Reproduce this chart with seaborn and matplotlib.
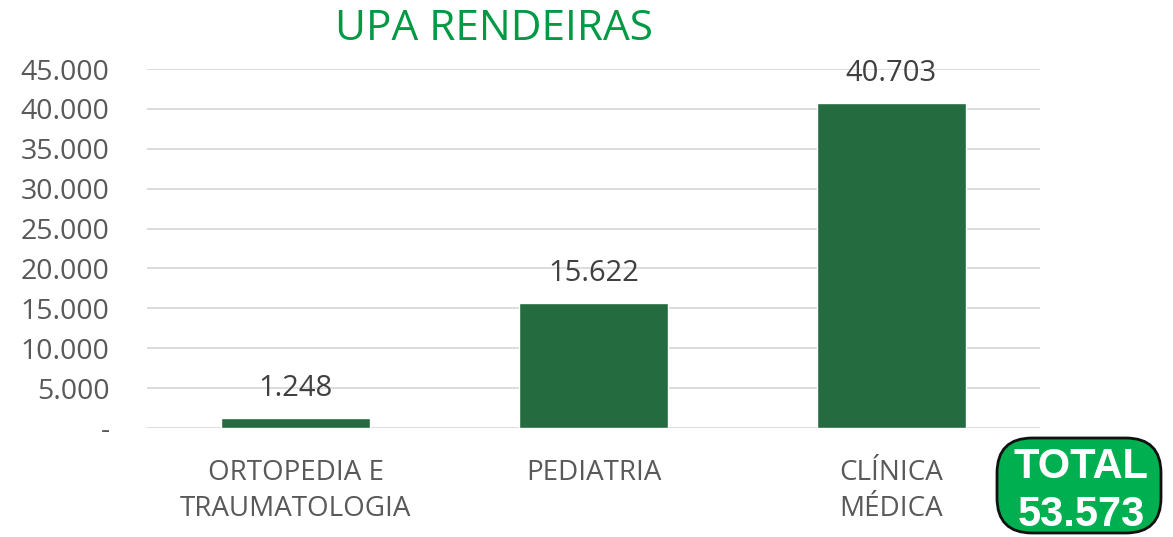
import matplotlib
matplotlib.use("Agg")
import matplotlib.pyplot as plt
import seaborn as sns
import pandas as pd
from matplotlib.patches import FancyBboxPatch

categories = ["ORTOPEDIA E\nTRAUMATOLOGIA", "PEDIATRIA", "CLÍNICA\nMÉDICA"]
values = [1248, 15622, 40703]
value_labels = ["1.248", "15.622", "40.703"]
yticks = [0, 5000, 10000, 15000, 20000, 25000, 30000, 35000, 40000, 45000]
ytick_labels = ["-", "5.000", "10.000", "15.000", "20.000", "25.000",
                "30.000", "35.000", "40.000", "45.000"]
title = "UPA RENDEIRAS"
total_label = "TOTAL"
total_value = "53.573"

sns.set_theme(style="white")
plt.rcParams["font.family"] = ["Open Sans", "DejaVu Sans"]

df = pd.DataFrame({"cat": categories, "val": values})

fig = plt.figure(figsize=(11.73, 5.37), dpi=100)
ax = fig.add_axes([147/1173, 109/537, (1040-147)/1173, (428-69)/537])

sns.barplot(data=df, x="cat", y="val", color="#246B3F", saturation=1,
            width=0.5, ax=ax, zorder=3)

ax.set_ylim(0, 45000)
ax.set_xlim(-0.5, 2.5)
ax.set_yticks(yticks)
ax.set_yticklabels(ytick_labels)
ax.yaxis.grid(True, color="#D9D9D9", linewidth=1.3, zorder=0)
ax.set_axisbelow(True)
for s in ax.spines.values():
    s.set_visible(False)
ax.tick_params(axis="y", length=0, colors="#595959", labelsize=20.5, pad=27)
ax.tick_params(axis="x", length=0, colors="#595959", labelsize=20, pad=22)
for lab in ax.get_xticklabels():
    lab.set_linespacing(1.42)
ax.set_xlabel("")
ax.set_ylabel("")

for i, (v, t) in enumerate(zip(values, value_labels)):
    ax.annotate(t, (i, v), xytext=(0, 11), textcoords="offset points",
                ha="center", va="bottom", fontsize=21, color="#404040")

fig.text(494/1173, 1 - 29/537, title, ha="center", va="center",
         fontsize=30.5, color="#009A44")

box = FancyBboxPatch((997/1173, 4/537), (1161-997)/1173, (99-4)/537,
                     boxstyle="round,pad=0,rounding_size=0.03",
                     transform=fig.transFigure, facecolor="#00B050",
                     edgecolor="#111111", linewidth=2, mutation_aspect=1173/537)
fig.patches.append(box)
fig.text(1081/1173, 1 - 467/537, total_label, ha="center", va="center",
         fontsize=30, fontweight="bold", color="white",
         family=["Liberation Sans", "DejaVu Sans"])
fig.text(1081/1173, 1 - 515/537, total_value, ha="center", va="center",
         fontsize=30, fontweight="bold", color="white",
         family=["Liberation Sans", "DejaVu Sans"])

fig.savefig("out.png", dpi=100, facecolor="white")
